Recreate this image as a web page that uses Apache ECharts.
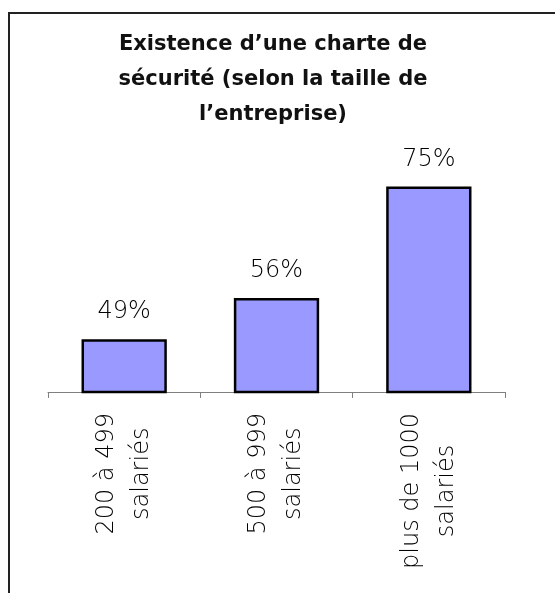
<!DOCTYPE html>
<html>
<head>
<meta charset="utf-8">
<script src="https://cdn.jsdelivr.net/npm/echarts@6/dist/echarts.min.js"></script>
<style>
  html, body { margin: 0; padding: 0; background: #fff; }
  #frame { position: absolute; left: 8px; top: 12px; width: 600px; height: 640px;
           border-left: 2px solid #222; border-top: 2px solid #222; }
  #chart { position: absolute; left: 0; top: 0; width: 555px; height: 593px; }
</style>
</head>
<body>
<div id="frame"></div>
<div id="chart"></div>
<script>
// Company size groups and share of companies with a security charter (%)
const categories = ['200 à 499\nsalariés', '500 à 999\nsalariés', 'plus de 1000\nsalariés'];
const shares = [49, 56, 75];
const titleText = 'Existence d\u2019une charte de\nsécurité (selon la taille de\nl\u2019entreprise)';

const TITLE_FONT = '"DejaVu Sans", sans-serif';
const LABEL_FONT = '"DejaVu Sans", sans-serif';

const chart = echarts.init(document.getElementById('chart'), null, { renderer: 'canvas' });
chart.setOption({
  backgroundColor: 'transparent',
  animation: false,
  title: {
    text: titleText,
    left: 268,
    top: 22,
    textAlign: 'center',
    textStyle: { fontFamily: TITLE_FONT, fontSize: 21, fontWeight: 'bold', color: '#111', lineHeight: 35 }
  },
  grid: { left: 48, right: 50, top: 157, bottom: 201, containLabel: false },
  xAxis: {
    type: 'category',
    data: categories,
    axisLine: { lineStyle: { color: '#808080', width: 1 } },
    axisTick: { show: true, length: 6, lineStyle: { color: '#808080' } },
    axisLabel: {
      rotate: 90,
      margin: 21,
      interval: 0,
      fontFamily: LABEL_FONT,
      fontSize: 24,
      fontWeight: 200,
      color: '#000',
      lineHeight: 35,
      formatter: v => v.split('\n').map(s => '{c|' + s + '}').join('\n'),
      rich: { c: { align: 'center', fontFamily: LABEL_FONT, fontSize: 24, fontWeight: 200, lineHeight: 35, color: '#000' } }
    }
  },
  yAxis: {
    type: 'value',
    min: 40,
    max: 80,
    show: false,
    splitLine: { show: false }
  },
  series: [{
    type: 'bar',
    data: shares,
    barWidth: '56%',
    itemStyle: { color: '#9999FF', borderColor: '#000', borderWidth: 2.5 },
    label: {
      show: true,
      position: 'top',
      distance: 15,
      formatter: p => p.value + '%',
      fontFamily: LABEL_FONT,
      fontSize: 24,
      fontWeight: 200,
      color: '#000'
    }
  }]
});
</script>
</body>
</html>
